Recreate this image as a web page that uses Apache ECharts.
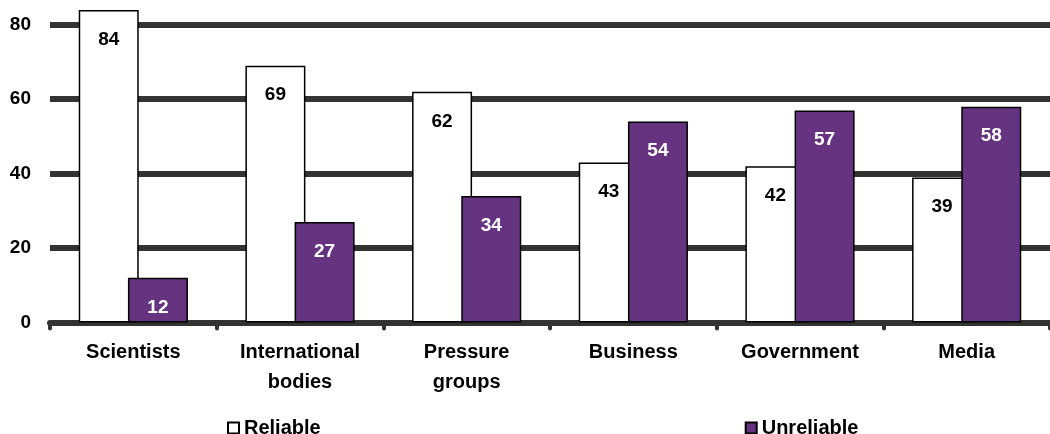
<!DOCTYPE html>
<html>
<head>
<meta charset="utf-8">
<script src="https://cdn.jsdelivr.net/npm/echarts@6/dist/echarts.min.js"></script>
<style>
  html, body { margin: 0; padding: 0; background: #fff; }
  #chart { width: 1050px; height: 434px; }
</style>
</head>
<body>
<div id="chart"></div>
<script>
// Trust in sources of information (%)
const categories = ['Scientists', 'International\nbodies', 'Pressure\ngroups', 'Business', 'Government', 'Media'];
const reliable = [84, 69, 62, 43, 42, 39];
const unreliable = [12, 27, 34, 54, 57, 58];

const FONT = '"Liberation Sans", Arial, sans-serif';
const PURPLE = '#663381';
const GRID = '#333333';

const chart = echarts.init(document.getElementById('chart'), null, { renderer: 'canvas' });

const labelCommon = {
  show: true,
  position: 'insideTop',
  distance: 20,
  fontFamily: FONT,
  fontWeight: 'bold',
  fontSize: 19
};

chart.setOption({
  animation: false,
  backgroundColor: '#ffffff',
  grid: { left: 50, top: 2.5, width: 1006, height: 320 },
  legend: {
    left: 222,
    top: 413,
    itemWidth: 11,
    itemHeight: 11,
    itemGap: 424,
    icon: 'rect',
    textStyle: { fontFamily: FONT, fontWeight: 'bold', fontSize: 20, color: '#000' },
    data: ['Reliable', 'Unreliable']
  },
  xAxis: {
    type: 'category',
    data: categories,
    axisLine: { show: true, lineStyle: { color: GRID, width: 6, cap: 'round' } },
    axisTick: { show: true, length: 6, lineStyle: { color: GRID, width: 4, cap: 'round' } },
    axisLabel: {
      margin: 15,
      fontFamily: FONT,
      fontWeight: 'bold',
      fontSize: 20,
      lineHeight: 30,
      color: '#000',
      interval: 0
    }
  },
  yAxis: {
    type: 'value',
    min: 0,
    max: 86,
    interval: 20,
    axisLine: { show: false },
    axisTick: { show: false },
    axisLabel: {
      margin: 19,
      showMaxLabel: false,
      fontFamily: FONT,
      fontWeight: 'bold',
      fontSize: 19,
      color: '#000',
      formatter: v => (v % 20 === 0 ? String(v) : '')
    },
    splitLine: { show: true, showMaxLine: false, lineStyle: { color: GRID, width: 6 } }
  },
  series: [
    {
      name: 'Reliable',
      type: 'bar',
      data: reliable,
      barWidth: 60,
      barGap: '-18%',
      itemStyle: { color: '#ffffff', borderColor: '#000', borderWidth: 1.5 },
      label: Object.assign({ color: '#000' }, labelCommon)
    },
    {
      name: 'Unreliable',
      type: 'bar',
      data: unreliable,
      barWidth: 60,
      barGap: '-18%',
      itemStyle: { color: PURPLE, borderColor: '#000', borderWidth: 1.5 },
      label: Object.assign({ color: '#fff' }, labelCommon)
    }
  ]
});
</script>
</body>
</html>
